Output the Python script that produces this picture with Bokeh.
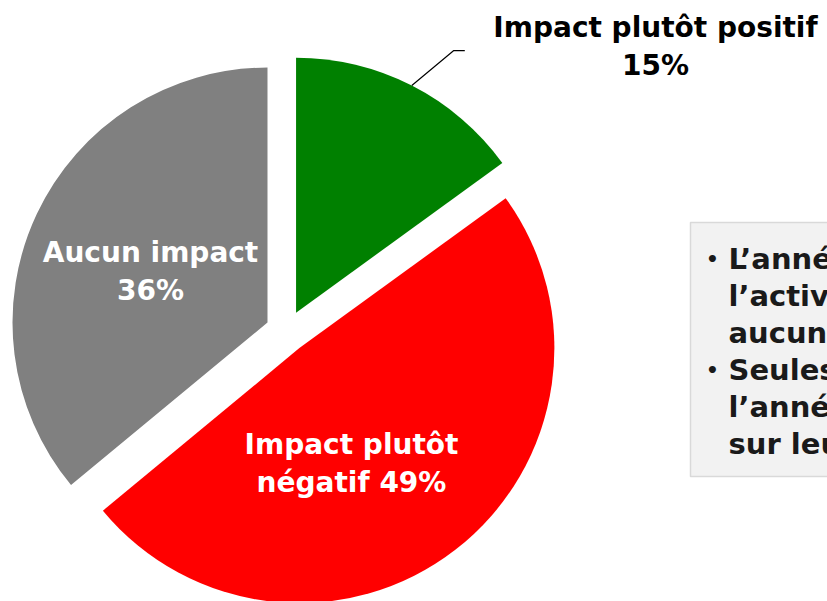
import math
from bokeh.plotting import figure
from bokeh.models import Range1d, ColumnDataSource
from bokeh.core.properties import value
from bokeh.embed import file_html
from bokeh.resources import INLINE

# ---- data ----
categories = ["Impact plutôt positif", "Impact plutôt négatif", "Aucun impact"]
shares = [15, 49, 36]
colors = ["#008000", "#FF0000", "#808080"]
label_lines = [["Impact plutôt positif", "15%"],
               ["Impact plutôt", "négatif 49%"],
               ["Aucun impact", "36%"]]
box_lines = ["L’année 2020 n’a eu", "l’activité de la plupart", "aucun impact notable",
             "Seules 15% jugent", "l’année 2020 positive", "sur leur activité"]

# ---- layout (pixel coordinates, y up) ----
W, H = 827, 601
def X(xr): return xr
def Y(yr): return H - yr

CX, CY = X(286), Y(331)
R = 255
EXPLODE = 21
FONT = value("DejaVu Sans")

p = figure(width=W, height=H, output_backend="svg", toolbar_location=None,
           x_range=Range1d(0, W), y_range=Range1d(0, H), min_border=0)
p.axis.visible = False
p.grid.visible = False
p.outline_line_color = None
p.background_fill_color = "white"
p.border_fill_color = "white"

total = sum(shares)
cum = 0.0
xs, ys, sa, ea = [], [], [], []
mids = []
for s in shares:
    a0 = cum / total * 2 * math.pi
    a1 = (cum + s) / total * 2 * math.pi
    mid = (a0 + a1) / 2
    mids.append(mid)
    xs.append(CX + EXPLODE * math.sin(mid))
    ys.append(CY + EXPLODE * math.cos(mid))
    sa.append(math.pi / 2 - a0)
    ea.append(math.pi / 2 - a1)
    cum += s

src = ColumnDataSource(dict(x=xs, y=ys, start=sa, end=ea, color=colors, cat=categories))
p.wedge(x="x", y="y", radius=R, start_angle="start", end_angle="end",
        direction="clock", fill_color="color", line_color=None, source=src)

# leader line for green slice
gx = xs[0] + R * math.sin(mids[0])
gy = ys[0] + R * math.cos(mids[0])
p.line([gx, gx + 42, gx + 53], [gy, gy + 35, gy + 35], line_color="black", line_width=1.2)

# slice labels
lab_pos = [(X(655), Y(27)), (X(351), Y(444)), (X(150), Y(252))]
lab_col = ["black", "white", "white"]
LS = 38
for (lx, ly), lines, c in zip(lab_pos, label_lines, lab_col):
    p.text(x=[lx] * len(lines), y=[ly - i * LS for i in range(len(lines))], text=lines,
           text_align="center", text_baseline="middle", text_color=c,
           text_font=FONT, text_font_style="bold", text_font_size="28px")

# right text box
p.quad(left=[X(690)], right=[W + 20], top=[Y(222)], bottom=[Y(476)],
       fill_color="#f2f2f2", line_color="#d9d9d9", line_width=1.5)
by0 = Y(258)
BLS = 37
for i, t in enumerate(box_lines):
    p.text(x=[X(728)], y=[by0 - i * BLS], text=[t], text_align="left", text_baseline="middle",
           text_color="#1a1a1a", text_font=FONT, text_font_style="bold", text_font_size="29px")
for i in (0, 3):
    p.text(x=[X(712)], y=[by0 - i * BLS], text=["•"], text_align="center", text_baseline="middle",
           text_color="#1a1a1a", text_font=FONT, text_font_style="bold", text_font_size="20px")

open("out.html", "w").write(file_html(p, INLINE))
